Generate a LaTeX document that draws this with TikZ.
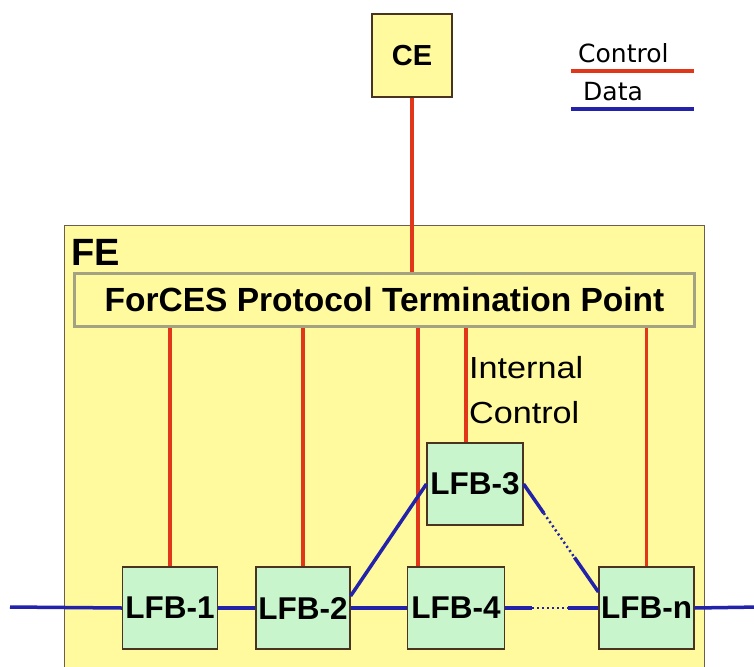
\documentclass[tikz,border=0pt]{standalone}
\usepackage{fontspec}
\setmainfont{Liberation Sans}
\newfontfamily\legendfont{DejaVu Sans}
\newfontfamily\widefont[FakeStretch=1.12]{Liberation Sans}
\usepackage{tikz}
\usetikzlibrary{positioning, calc}
\usepackage{xcolor}
\definecolor{boxyellow}{HTML}{FFFA9E}
\definecolor{lfbgreen}{HTML}{C8F5CC}
\definecolor{ctrlred}{HTML}{E2361A}
\definecolor{datablue}{HTML}{2222AA}
\definecolor{ptgrey}{HTML}{A3A384}
\definecolor{edgebrown}{HTML}{4A3320}

\begin{document}
\begin{tikzpicture}[
        x=1pt, y=-1pt,
        lfbbox/.style={draw=edgebrown, fill=lfbgreen, line width=1.2pt, minimum width=95pt, minimum height=82pt, inner sep=0pt, font=\fontsize{31.5}{33}\selectfont\bfseries},
        ctrl/.style={color=ctrlred, line width=3.2pt},
        data/.style={color=datablue, line width=3.5pt},
        dotdata/.style={color=datablue, line width=2.5pt, dash pattern=on 2pt off 3pt},
      ]
        \useasboundingbox (0,0) rectangle (754,666);
        \clip (0,0) rectangle (754,666);
        \node[draw=edgebrown, fill=boxyellow, line width=1.2pt, minimum width=80pt, minimum height=83pt, font=\fontsize{29}{30}\selectfont\bfseries] (ce) at (412,55.5) {CE};
        \node[draw=edgebrown!80, fill=boxyellow, line width=1pt, minimum width=640pt, minimum height=480pt, inner sep=0pt] (fe) at (384,465) {};
        \node[anchor=base west, inner sep=0pt, font=\fontsize{38}{40}\selectfont\bfseries] (felabel) at (71,265) {FE};
        \node[draw=ptgrey, fill=boxyellow, line width=3.5pt, minimum width=620pt, minimum height=53pt, inner sep=0pt, font=\fontsize{33.5}{35}\selectfont\bfseries] (pt) at (384.5,300) {ForCES Protocol Termination Point};
        \node[lfbbox] (lfb1) at (170,608) {LFB-1};
        \node[lfbbox, minimum width=94pt] (lfb2) at (303,608) {LFB-2};
        \node[lfbbox, minimum width=97pt] (lfb4) at (456,608) {LFB-4};
        \node[lfbbox] (lfbn) at (646.5,608) {LFB-n};
        \node[lfbbox, minimum width=96pt] (lfb3) at (475,484) {LFB-3};
        \node[anchor=north west, align=left, inner sep=0pt, font=\widefont\fontsize{30.5}{45}\selectfont] (intctrl) at (469,356) {Internal\\Control};
        \node[anchor=base west, inner sep=0pt, font=\legendfont\fontsize{25}{27}\selectfont] (legctrl) at (578,63) {Control};
        \node[anchor=base west, inner sep=0pt, font=\legendfont\fontsize{25}{27}\selectfont] (legdata) at (583,100) {Data};
        \coordinate (ctrlA) at (571,71);
        \coordinate (ctrlB) at (694,71);
        \coordinate (dataA) at (571,109);
        \coordinate (dataB) at (694,109);
        \coordinate (datain) at (10,607);
        \coordinate (dataout) at (760,607);
        \draw[ctrl] (ctrlA) -- (ctrlB);
        \draw[data] (dataA) -- (dataB);
        \draw[ctrl] (ce.south) -- (ce.south |- pt.north);
        \draw[ctrl] (lfb1.north |- pt.south) -- (lfb1.north);
        \draw[ctrl] (lfb2.north |- pt.south) -- (lfb2.north);
        \draw[ctrl] ([xshift=-38pt]lfb4.north |- pt.south) -- ([xshift=-38pt]lfb4.north);
        \draw[ctrl] ([xshift=-9pt]lfb3.north |- pt.south) -- ([xshift=-9pt]lfb3.north);
        \draw[ctrl] (lfbn.north |- pt.south) -- (lfbn.north);
        \draw[data] (datain) -- (lfb1.west);
        \draw[data] (lfb1.east) -- (lfb2.west);
        \draw[data] (lfb2.east) -- (lfb4.west);
        \draw[data] (lfbn.east) -- (dataout);
        \draw[data] ([yshift=12pt]lfb2.east) -- (lfb3.west);
        \draw[data] (lfb4.east) -- ($(lfb4.east)!.29!(lfbn.west)$);
        \draw[dotdata] ($(lfb4.east)!.29!(lfbn.west)$) -- ($(lfb4.east)!.67!(lfbn.west)$);
        \draw[data] ($(lfb4.east)!.67!(lfbn.west)$) -- (lfbn.west);
        \draw[data] (lfb3.east) -- ($(lfb3.east)!.27!([yshift=16pt]lfbn.west)$);
        \draw[dotdata] ($(lfb3.east)!.27!([yshift=16pt]lfbn.west)$) -- ($(lfb3.east)!.68!([yshift=16pt]lfbn.west)$);
        \draw[data] ($(lfb3.east)!.68!([yshift=16pt]lfbn.west)$) -- ([yshift=16pt]lfbn.west);
      \end{tikzpicture}
\end{document}
